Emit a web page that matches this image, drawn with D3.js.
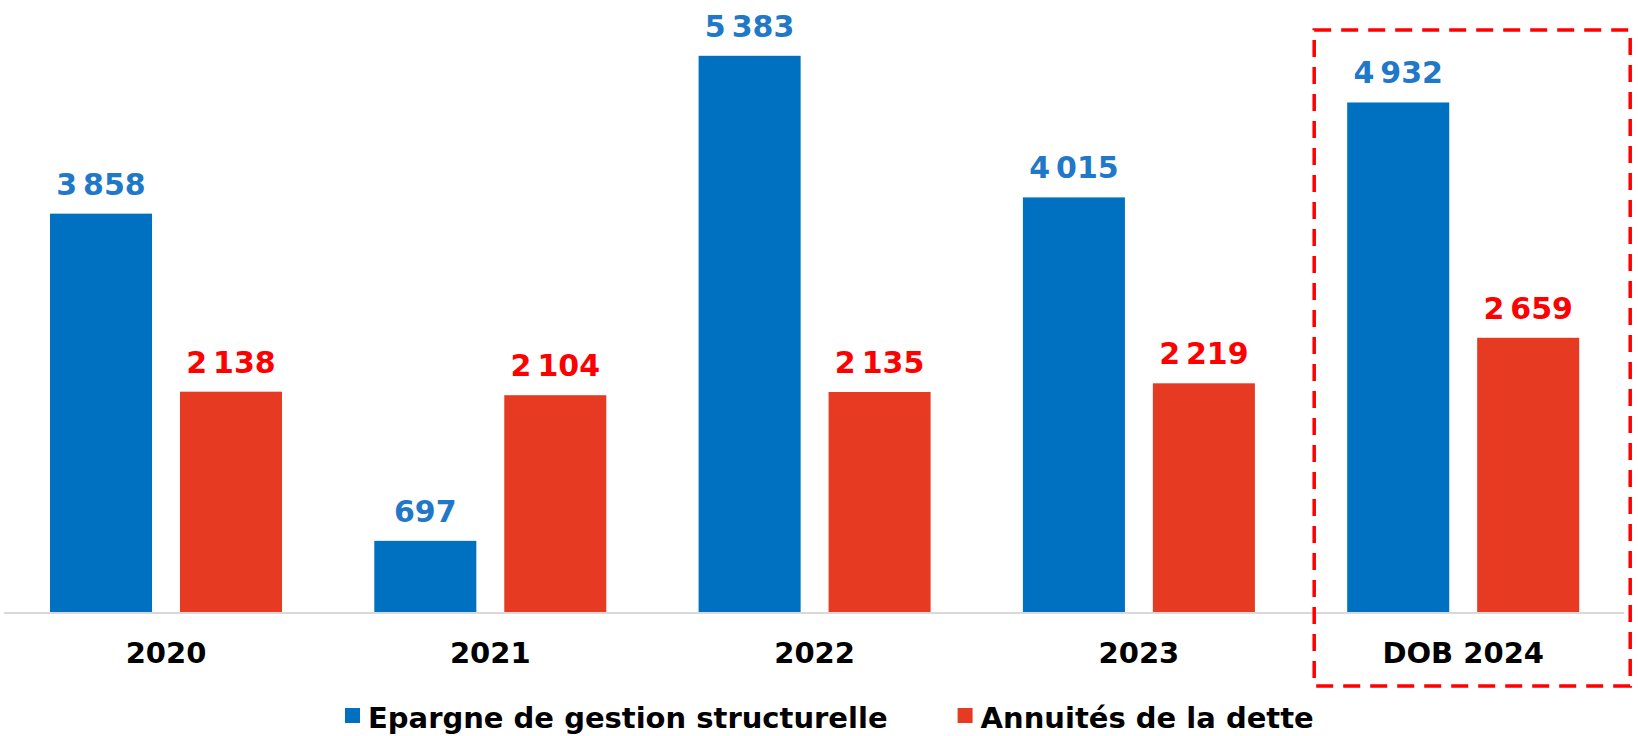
<!DOCTYPE html>
<html>
<head>
<meta charset="utf-8">
<script src="https://cdn.jsdelivr.net/npm/d3@7"></script>
<style>
  html, body { margin: 0; padding: 0; background: #fff; }
  svg { display: block; }
  text { font-family: "DejaVu Sans", Verdana, sans-serif; font-weight: bold; }
</style>
</head>
<body>
<svg id="chart" width="1638" height="736"></svg>
<script>
const categories = ["2020", "2021", "2022", "2023", "DOB 2024"];
const seriesNames = ["Epargne de gestion structurelle", "Annuités de la dette"];
const epargne = [3858, 697, 5383, 4015, 4932];
const annuites = [2138, 2104, 2135, 2219, 2659];
const seriesValues = [epargne, annuites];
const barColors = ["#0070C0", "#E63B22"];
const labelColors = ["#1F78C8", "#FF0000"];

const W = 1638, H = 736;
const svg = d3.select("#chart");
const baseY = 613;

const x0 = d3.scaleBand().domain(categories).range([3.85, 1625.35])
  .paddingInner(0.2846).paddingOuter(0.1423);
const x1 = d3.scaleBand().domain(seriesNames).range([0, x0.bandwidth()])
  .paddingInner(0.215).paddingOuter(0);
const y = d3.scaleLinear().domain([0, 5922]).range([baseY, 0]);

const fmt = v => d3.format(",")(v).replace(/,/g, "\u2009");

// bars
const groups = svg.append("g").selectAll("g").data(categories).join("g")
  .attr("transform", c => `translate(${x0(c)},0)`);

seriesNames.forEach((s, si) => {
  groups.append("rect")
    .attr("x", x1(s))
    .attr("width", x1.bandwidth())
    .attr("y", (c, i) => y(seriesValues[si][i]))
    .attr("height", (c, i) => baseY - y(seriesValues[si][i]))
    .attr("fill", barColors[si]);
  groups.append("text")
    .attr("x", x1(s) + x1.bandwidth() / 2)
    .attr("y", (c, i) => y(seriesValues[si][i]) - 19)
    .attr("text-anchor", "middle")
    .attr("font-size", 30)
    .attr("fill", labelColors[si])
    .text((c, i) => fmt(seriesValues[si][i]));
});

// axis line
svg.append("line")
  .attr("x1", 4).attr("x2", 1624)
  .attr("y1", baseY).attr("y2", baseY)
  .attr("stroke", "#D9D9D9").attr("stroke-width", 2);

// category labels
svg.append("g").selectAll("text").data(categories).join("text")
  .attr("x", c => x0(c) + x0.bandwidth() / 2)
  .attr("y", 663)
  .attr("text-anchor", "middle")
  .attr("font-size", 29)
  .attr("fill", "#000")
  .text(c => c);

// dashed highlight box
const last = categories[categories.length - 1];
const bx0 = x0(last) - 33, bx1 = x0(last) + x0.bandwidth() + 51;
svg.append("rect")
  .attr("x", bx0).attr("y", 30)
  .attr("width", bx1 - bx0).attr("height", 656)
  .attr("fill", "none")
  .attr("stroke", "#FF0000")
  .attr("stroke-width", 3.5)
  .attr("stroke-dasharray", "17 10");

// legend
const legend = svg.append("g");
let lx = 345;
seriesNames.forEach((s, si) => {
  legend.append("rect")
    .attr("x", lx).attr("y", 708)
    .attr("width", 15).attr("height", 15)
    .attr("fill", barColors[si]);
  const t = legend.append("text")
    .attr("x", lx + 23).attr("y", 728)
    .attr("font-size", 29)
    .attr("fill", "#000")
    .text(s);
  lx = lx + 23 + t.node().getComputedTextLength() + 70;
});
</script>
</body>
</html>
